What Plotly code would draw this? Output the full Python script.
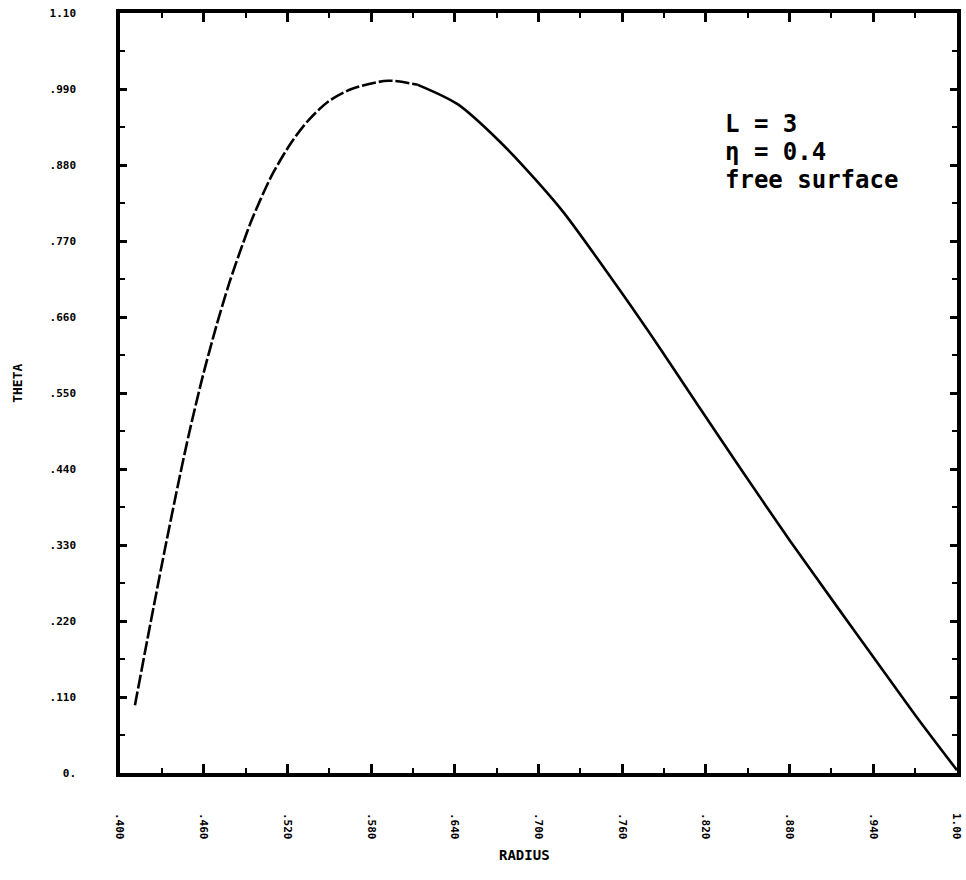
import plotly.graph_objects as go

# ---- data ----
radius = [0.4107, 0.4214, 0.4320, 0.4427, 0.4498, 0.4593, 0.4688, 0.4783, 0.4877,
          0.4949, 0.5091, 0.5233, 0.5352, 0.5494, 0.5660, 0.5920, 0.6135, 0.6420,
          0.6727, 0.6987, 0.7185, 0.7600, 0.7880, 0.8150, 0.8460, 0.8800, 0.9146,
          0.9400, 0.9700, 1.0000]
theta = [0.098, 0.212, 0.322, 0.428, 0.494, 0.574, 0.645, 0.709, 0.764,
         0.803, 0.866, 0.914, 0.945, 0.972, 0.990, 1.002, 0.996, 0.968,
         0.913, 0.857, 0.810, 0.694, 0.612, 0.530, 0.437, 0.337, 0.239,
         0.168, 0.084, 0.004]

x_tick_vals = [0.40, 0.46, 0.52, 0.58, 0.64, 0.70, 0.76, 0.82, 0.88, 0.94, 1.00]
x_tick_text = [".400", ".460", ".520", ".580", ".640", ".700", ".760", ".820", ".880", ".940", "1.00"]
x_minor_vals = [0.43, 0.49, 0.55, 0.61, 0.67, 0.73, 0.79, 0.85, 0.91, 0.97]

y_tick_vals = [0.0, 0.11, 0.22, 0.33, 0.44, 0.55, 0.66, 0.77, 0.88, 0.99, 1.10]
y_tick_text = ["0.", ".110", ".220", ".330", ".440", ".550", ".660", ".770", ".880", ".990", "1.10"]
y_minor_vals = [0.055, 0.165, 0.275, 0.385, 0.495, 0.605, 0.715, 0.825, 0.935, 1.045]

note_lines = ["L = 3", "η = 0.4", "free surface"]
x_title = "RADIUS"
y_title = "THETA"

MONO = "DejaVu Sans Mono"

# the rising branch is drawn broken (dashed) in the reference, the falling branch solid
split = 17  # index just past the peak region
fig = go.Figure()
fig.add_trace(go.Scatter(
    x=radius[:split], y=theta[:split], mode="lines",
    line=dict(color="black", width=2.6, shape="spline", smoothing=0.8, dash="14px,3px"),
    hoverinfo="skip", showlegend=False,
))
fig.add_trace(go.Scatter(
    x=radius[split - 1:], y=theta[split - 1:], mode="lines",
    line=dict(color="black", width=2.6, shape="spline", smoothing=0.8),
    hoverinfo="skip", showlegend=False,
))

axis_common = dict(
    showline=True, linewidth=3.5, linecolor="black", mirror="allticks",
    ticks="inside", tickcolor="black", tickwidth=2.5,
    showgrid=False, zeroline=False,
    tickfont=dict(family=MONO, size=11, color="black", weight="bold"),
)

fig.update_xaxes(
    range=[0.4, 1.0], tickmode="array", tickvals=x_tick_vals, ticktext=x_tick_text,
    ticklen=9, tickangle=90, ticklabelstandoff=34,
    minor=dict(ticks="inside", ticklen=5, tickwidth=2, tickcolor="black",
               tickmode="array", tickvals=x_minor_vals, showgrid=False),
    **axis_common,
)
fig.update_yaxes(
    range=[0.0, 1.1], tickmode="array", tickvals=y_tick_vals, ticktext=y_tick_text,
    ticklen=7, ticklabelstandoff=38,
    minor=dict(ticks="inside", ticklen=5, tickwidth=2, tickcolor="black",
               tickmode="array", tickvals=y_minor_vals, showgrid=False),
    **axis_common,
)

annotations = []
note_y = [0.8539, 0.8171, 0.7803]
for txt, yy in zip(note_lines, note_y):
    annotations.append(dict(
        text=txt, x=0.7212, y=yy, xref="paper", yref="paper",
        xanchor="left", yanchor="middle", showarrow=False, borderpad=0,
        font=dict(family=MONO, size=24, color="black", weight="bold"),
    ))
annotations.append(dict(
    text=x_title, x=0.4828, y=-0.108, xref="paper", yref="paper",
    xanchor="center", yanchor="middle", showarrow=False,
    font=dict(family=MONO, size=14, color="black", weight="bold"),
))
annotations.append(dict(
    text=y_title, x=-0.1234, y=0.513, xref="paper", yref="paper",
    xanchor="center", yanchor="middle", showarrow=False, textangle=-90,
    font=dict(family=MONO, size=13, color="black", weight="bold"),
))

fig.update_layout(
    width=966, height=880,
    margin=dict(l=120, r=3, t=13, b=107),
    paper_bgcolor="white", plot_bgcolor="white",
    annotations=annotations,
    showlegend=False,
)

fig.write_html("out.html")
